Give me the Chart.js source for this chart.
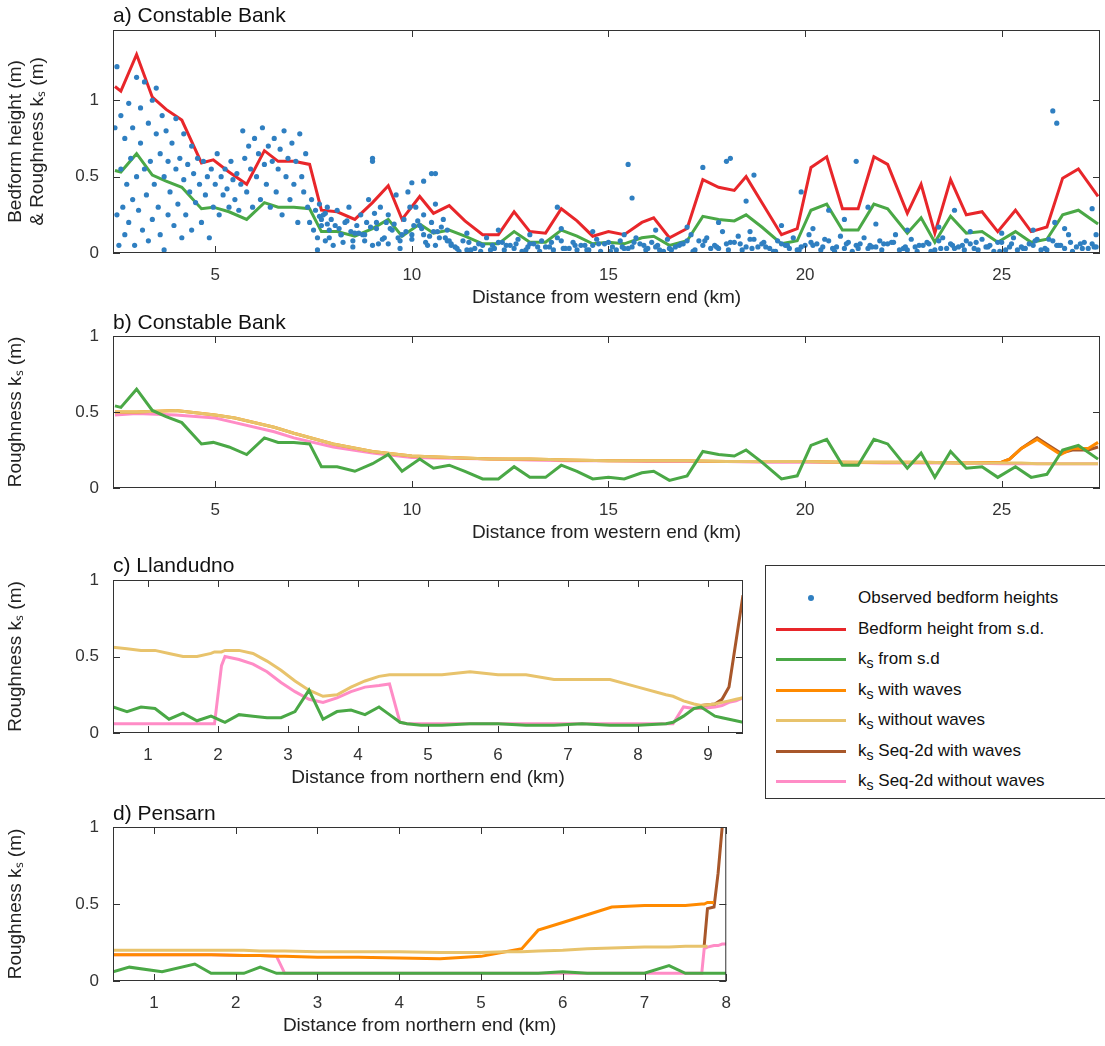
<!DOCTYPE html>
<html>
<head>
<meta charset="utf-8">
<script src="https://cdn.jsdelivr.net/npm/chart.js@4.4.0/dist/chart.umd.min.js"></script>
<style>
  body { margin: 0; background: #fff; font-family: "Liberation Sans", Arial, sans-serif; }
  #wrap { position: relative; width: 1105px; height: 1046px; overflow: hidden; }
  canvas { position: absolute; left: 0; }
  .ttl { position: absolute; left: 113px; font-size: 21px; color: #111; }
  #legend { position: absolute; left: 765px; top: 565px; width: 345px; height: 232px; border: 1px solid #333; background: #fff; font-size: 17px; color: #111; }
  .li { position: absolute; left: 0; height: 20px; }
  .li .sw { position: absolute; left: 10px; top: 9px; width: 70px; height: 3px; }
  .li .tx { position: absolute; left: 92px; top: 0; white-space: nowrap; }
</style>
</head>
<body>
<div id="wrap">
  <canvas id="ca"></canvas>
  <canvas id="cb"></canvas>
  <canvas id="cc"></canvas>
  <canvas id="cd"></canvas>
  <div class="ttl" style="top:3px">a) Constable Bank</div>
  <div class="ttl" style="top:310px">b) Constable Bank</div>
  <div class="ttl" style="top:553px">c) Llandudno</div>
  <div class="ttl" style="top:801px">d) Pensarn</div>
  <div id="legend"></div>
</div>
<script>
// ---- colours
const BLUE = '#2f7fc1', RED = '#e8262a', GREEN = '#4aa846', ORANGE = '#ff8a00',
      YELLOW = '#e8c36c', BROWN = '#a8572a', PINK = '#ff8cc6';

// ---- panel a / b : Constable Bank, s.d. based series
const cbX = [2.45,2.6,3.0,3.4,3.75,4.15,4.65,4.95,5.35,5.8,6.25,6.6,7.0,7.4,7.7,8.1,8.55,9.0,9.4,9.75,10.2,10.55,10.95,11.35,11.8,12.2,12.6,13.0,13.4,13.8,14.2,14.6,15.0,15.4,15.85,16.15,16.55,17.0,17.4,17.8,18.2,18.5,18.9,19.4,19.8,20.15,20.55,20.95,21.35,21.75,22.1,22.6,22.95,23.3,23.7,24.1,24.5,24.9,25.35,25.75,26.15,26.55,26.95,27.45];
const redH = [1.09,1.06,1.30,1.02,0.94,0.87,0.59,0.61,0.53,0.45,0.67,0.60,0.60,0.58,0.28,0.27,0.22,0.33,0.44,0.22,0.37,0.26,0.31,0.21,0.12,0.12,0.27,0.14,0.13,0.29,0.21,0.11,0.14,0.12,0.20,0.23,0.10,0.16,0.48,0.43,0.41,0.50,0.33,0.12,0.16,0.56,0.63,0.29,0.29,0.63,0.58,0.26,0.45,0.13,0.48,0.25,0.27,0.14,0.28,0.14,0.17,0.49,0.55,0.37];
const greenKs = [0.54,0.53,0.65,0.51,0.47,0.43,0.29,0.30,0.27,0.22,0.33,0.30,0.30,0.29,0.14,0.14,0.11,0.16,0.22,0.11,0.19,0.13,0.15,0.11,0.06,0.06,0.14,0.07,0.07,0.15,0.11,0.06,0.07,0.06,0.10,0.11,0.05,0.08,0.24,0.22,0.21,0.25,0.17,0.06,0.08,0.28,0.32,0.15,0.15,0.32,0.29,0.13,0.23,0.07,0.24,0.13,0.14,0.07,0.14,0.07,0.09,0.25,0.28,0.19];

// observed bedform heights (km, m)
const obsX = [2.45,2.5,2.5,2.55,2.6,2.6,2.65,2.7,2.7,2.75,2.8,2.8,2.85,2.9,2.9,2.95,3.0,3.0,3.05,3.1,3.1,3.15,3.2,3.2,3.25,3.3,3.3,3.35,3.4,3.4,3.45,3.5,3.5,3.55,3.6,3.6,3.65,3.7,3.7,3.75,3.8,3.8,3.85,3.9,3.95,4.0,4.0,4.05,4.1,4.15,4.2,4.2,4.25,4.3,4.35,4.4,4.4,4.45,4.5,4.55,4.6,4.65,4.7,4.75,4.8,4.85,4.9,4.95,5.0,5.05,5.1,5.15,5.2,5.25,5.3,5.35,5.4,5.45,5.5,5.55,5.6,5.65,5.7,5.75,5.8,5.85,5.9,5.95,6.0,6.05,6.1,6.15,6.2,6.25,6.3,6.35,6.4,6.45,6.5,6.55,6.6,6.65,6.7,6.75,6.8,6.85,6.9,6.95,7.0,7.05,7.1,7.15,7.2,7.25,7.3,7.35,7.4,7.45,7.5,7.55,7.6,7.65,7.7,7.75,7.8,7.85,7.9,7.95,8.0,8.1,8.2,8.3,8.4,8.5,8.6,8.7,8.8,8.9,9.0,9.1,9.2,9.3,9.4,9.5,9.6,9.7,9.8,9.9,10.0,10.1,10.2,10.3,10.4,10.5,10.6,10.7,10.8,10.9,11.0,7.6,7.9,8.2,8.5,8.8,9.1,9.4,9.7,10.0,10.3,10.6,10.9,7.7,8.05,8.45,8.75,9.05,9.35,9.65,9.95,10.25,10.55,10.85,9.0,10.0,10.5,
  7.65,7.85,8.15,8.35,8.65,8.95,9.25,9.55,9.85,10.15,10.45,10.75,10.95,7.8,8.25,8.55,8.85,9.15,9.45,9.75,10.05,10.35,10.65,
  11.1,11.3,11.5,11.7,11.9,12.1,12.3,12.5,12.7,12.9,13.1,13.3,13.5,13.7,13.9,14.1,14.3,14.5,14.7,14.9,15.1,15.3,15.5,15.7,15.9,16.1,16.3,16.5,16.7,16.9,17.1,17.3,17.5,17.7,17.9,18.1,18.3,18.5,18.7,18.9,19.1,19.3,19.5,19.7,19.9,20.1,20.3,20.5,20.7,20.9,21.1,21.3,21.5,21.7,21.9,22.1,22.3,22.5,22.7,22.9,23.1,23.3,23.5,23.7,23.9,24.1,24.3,24.5,24.7,24.9,25.1,25.3,25.5,25.7,25.9,26.1,26.3,26.5,26.7,26.9,27.1,27.3,
  11.2,11.6,12.0,12.4,12.8,13.2,13.6,14.0,14.4,14.8,15.2,15.6,16.0,16.4,16.8,17.2,17.6,18.0,18.4,18.8,19.2,19.6,20.0,20.4,20.8,21.2,21.6,22.0,22.4,22.8,23.2,23.6,24.0,24.4,24.8,25.2,25.6,26.0,26.4,26.8,27.2,
  11.0,11.4,11.8,12.2,12.6,13.0,13.4,13.8,14.2,14.6,15.0,15.4,15.8,16.2,16.6,17.0,17.4,17.8,18.2,18.6,19.0,19.4,19.8,20.2,20.6,21.0,21.4,21.8,22.2,22.6,23.0,23.4,23.8,24.2,24.6,25.0,25.4,25.8,26.2,26.6,27.0,27.4,
  11.15,11.45,11.75,12.05,12.35,12.65,12.95,13.25,13.55,13.85,14.15,14.45,14.75,15.05,15.35,15.65,15.95,16.25,16.55,16.85,17.15,17.45,17.75,18.05,18.35,18.65,18.95,19.25,19.55,19.85,20.15,20.45,20.75,21.05,21.35,21.65,21.95,22.25,22.55,22.85,23.15,23.45,23.75,24.05,24.35,24.65,24.95,25.25,25.55,25.85,26.15,26.45,26.75,27.05,27.35,
  11.4,12.2,13.0,13.8,14.6,15.4,16.2,17.0,17.8,18.6,19.4,20.2,21.0,21.8,22.6,23.4,24.2,25.0,25.8,26.6,27.4,
  13.7,15.5,15.6,17.4,18.0,18.1,18.5,18.7,20.6,21.3,26.3,26.4,26.35,27.3,9.0,10.3,10.6,19.9,21.6,23.8];
const obsY = [0.82,0.25,1.22,0.05,0.55,0.9,0.3,0.75,0.12,0.45,0.98,0.2,0.62,0.35,0.82,0.05,0.5,1.15,0.28,0.72,0.95,0.15,0.55,1.12,0.38,0.85,0.08,0.6,1.0,0.22,0.45,0.78,1.08,0.3,0.65,0.12,0.9,0.5,0.02,0.8,0.25,0.6,0.4,0.72,0.18,0.55,0.88,0.32,0.62,0.1,0.48,0.78,0.25,0.58,0.4,0.7,0.15,0.52,0.33,0.62,0.45,0.2,0.6,0.38,0.5,0.1,0.55,0.3,0.45,0.65,0.25,0.5,0.38,0.55,0.42,0.3,0.6,0.48,0.35,0.52,0.28,0.45,0.8,0.62,0.4,0.7,0.55,0.3,0.75,0.5,0.65,0.35,0.82,0.58,0.45,0.7,0.3,0.6,0.75,0.4,0.55,0.68,0.25,0.8,0.5,0.62,0.35,0.72,0.45,0.6,0.2,0.78,0.5,0.4,0.65,0.3,0.2,0.35,0.15,0.28,0.1,0.32,0.18,0.25,0.08,0.3,0.15,0.22,0.05,0.28,0.12,0.2,0.3,0.08,0.18,0.25,0.12,0.35,0.05,0.2,0.3,0.1,0.25,0.15,0.38,0.08,0.22,0.4,0.12,0.3,0.18,0.25,0.05,0.2,0.32,0.1,0.22,0.15,0.05,0.02,0.1,0.12,0.04,0.08,0.16,0.06,0.03,0.09,0.12,0.05,0.08,0.22,0.18,0.14,0.12,0.26,0.2,0.1,0.3,0.16,0.14,0.1,0.6,0.46,0.52,
  0.24,0.19,0.16,0.21,0.13,0.17,0.09,0.19,0.14,0.21,0.11,0.17,0.08,0.26,0.07,0.13,0.2,0.06,0.16,0.12,0.18,0.07,0.14,
  0.04,0.08,0.02,0.06,0.1,0.03,0.07,0.05,0.09,0.02,0.06,0.08,0.04,0.1,0.03,0.07,0.05,0.02,0.09,0.06,0.04,0.08,0.03,0.1,0.05,0.07,0.02,0.09,0.04,0.06,0.12,0.08,0.1,0.05,0.14,0.07,0.11,0.04,0.09,0.06,0.03,0.08,0.05,0.1,0.04,0.12,0.06,0.09,0.03,0.11,0.07,0.05,0.1,0.04,0.08,0.06,0.12,0.03,0.09,0.05,0.07,0.02,0.1,0.06,0.04,0.08,0.03,0.09,0.05,0.07,0.02,0.1,0.04,0.06,0.09,0.03,0.08,0.05,0.12,0.04,0.07,0.06,
  0.01,0.03,0.02,0.05,0.01,0.04,0.02,0.03,0.05,0.01,0.02,0.04,0.03,0.01,0.05,0.02,0.03,0.06,0.02,0.04,0.01,0.03,0.05,0.02,0.04,0.01,0.03,0.06,0.02,0.04,0.01,0.03,0.05,0.02,0.01,0.04,0.03,0.02,0.05,0.01,0.03,
  0.06,0.02,0.05,0.07,0.03,0.06,0.04,0.08,0.02,0.05,0.07,0.03,0.06,0.04,0.02,0.08,0.05,0.03,0.07,0.09,0.04,0.06,0.02,0.05,0.08,0.03,0.06,0.04,0.07,0.02,0.05,0.08,0.03,0.06,0.04,0.07,0.02,0.05,0.09,0.03,0.06,0.04,
  0.03,0.07,0.01,0.05,0.02,0.06,0.04,0.01,0.07,0.03,0.05,0.02,0.06,0.01,0.04,0.07,0.02,0.05,0.03,0.06,0.01,0.08,0.04,0.02,0.06,0.03,0.07,0.01,0.05,0.02,0.07,0.04,0.01,0.06,0.03,0.05,0.02,0.07,0.04,0.01,0.06,0.03,0.05,0.02,0.07,0.04,0.01,0.06,0.03,0.08,0.02,0.05,0.07,0.03,0.04,
  0.13,0.15,0.12,0.16,0.14,0.12,0.15,0.17,0.2,0.14,0.18,0.16,0.22,0.19,0.15,0.17,0.14,0.13,0.15,0.16,0.12,
  0.3,0.58,0.36,0.56,0.6,0.62,0.34,0.51,0.28,0.6,0.93,0.85,0.2,0.29,0.62,0.47,0.52,0.4,0.3,0.28];

// panel b smooth predictors
const bX = [2.45,3,4,5,5.5,6.5,7,8,9,10,11,12,13,14,15,16,17,18,19,20,21,22,23,24,25,25.2,25.5,25.9,26.2,26.5,26.8,27.2,27.45];
const bYellow = [0.50,0.50,0.51,0.48,0.46,0.40,0.36,0.29,0.24,0.21,0.20,0.19,0.19,0.185,0.18,0.18,0.18,0.175,0.175,0.175,0.17,0.17,0.17,0.165,0.165,0.165,0.165,0.16,0.16,0.16,0.16,0.16,0.16];
const bPink = [0.48,0.49,0.48,0.46,0.43,0.37,0.33,0.27,0.23,0.20,0.195,0.19,0.185,0.18,0.18,0.175,0.175,0.175,0.17,0.17,0.17,0.165,0.165,0.165,0.16,0.16,0.16,0.16,0.16,0.16,0.16,0.16,0.16];
const bOrange = [0.50,0.50,0.51,0.48,0.46,0.40,0.36,0.29,0.24,0.21,0.20,0.19,0.19,0.185,0.18,0.18,0.18,0.175,0.175,0.175,0.17,0.17,0.17,0.165,0.17,0.19,0.26,0.32,0.27,0.22,0.26,0.26,0.30];
const bBrown = [null,null,null,null,null,null,null,null,null,null,null,null,null,null,null,null,null,null,null,null,null,null,null,null,0.17,0.19,0.26,0.33,0.28,0.23,0.25,0.25,0.27];

// panel c: Llandudno
const cX = [0.5,0.7,0.9,1.1,1.3,1.5,1.7,1.9,1.95,2.05,2.1,2.3,2.5,2.7,2.9,3.1,3.3,3.5,3.7,3.9,4.1,4.3,4.45,4.6,4.7,4.9,5.2,5.6,6,6.4,6.8,7.2,7.6,8,8.4,8.5,8.65,8.8,8.9,9.1,9.2,9.3,9.4,9.5];
const cYellow = [0.56,0.55,0.54,0.54,0.52,0.50,0.50,0.52,0.53,0.53,0.54,0.54,0.52,0.47,0.41,0.34,0.28,0.24,0.25,0.30,0.34,0.37,0.38,0.38,0.38,0.38,0.38,0.40,0.38,0.38,0.35,0.35,0.35,0.30,0.25,0.24,0.21,0.19,0.18,0.19,0.20,0.21,0.22,0.23];
const cPink = [0.06,0.06,0.06,0.06,0.06,0.06,0.06,0.06,0.06,0.44,0.50,0.48,0.45,0.40,0.33,0.27,0.22,0.20,0.23,0.27,0.30,0.31,0.32,0.07,0.06,0.06,0.06,0.06,0.06,0.06,0.06,0.06,0.06,0.06,0.06,0.06,0.17,0.16,0.16,0.17,0.18,0.20,0.21,0.23];
const cGreen = [0.17,0.14,0.17,0.16,0.09,0.13,0.08,0.11,0.10,0.08,0.07,0.12,0.11,0.10,0.10,0.14,0.28,0.09,0.14,0.15,0.12,0.17,0.12,0.07,0.06,0.05,0.05,0.06,0.06,0.05,0.05,0.06,0.05,0.05,0.06,0.07,0.11,0.16,0.17,0.11,0.10,0.09,0.08,0.07];
const cBrown = [null,null,null,null,null,null,null,null,null,null,null,null,null,null,null,null,null,null,null,null,null,null,null,null,null,null,null,null,null,null,null,null,null,null,null,null,null,null,0.18,0.19,0.22,0.30,0.60,0.90];

// panel d: Pensarn
const dX = [0.5,0.7,1.1,1.5,1.7,2.1,2.3,2.5,2.6,3,3.5,4,4.5,5,5.3,5.5,5.7,6,6.3,6.6,7,7.3,7.5,7.7,7.73,7.77,7.85,7.9,7.95,8];
const dYellow = [0.20,0.20,0.20,0.20,0.20,0.20,0.195,0.195,0.195,0.19,0.19,0.19,0.185,0.185,0.19,0.19,0.195,0.20,0.21,0.215,0.22,0.22,0.225,0.225,0.225,0.225,null,null,null,null];
const dOrange = [0.17,0.17,0.17,0.17,0.17,0.165,0.165,0.16,0.16,0.155,0.155,0.15,0.145,0.16,0.19,0.21,0.33,0.38,0.43,0.48,0.49,0.49,0.49,0.50,0.50,0.51,0.51,null,null,null];
const dBrown = [null,null,null,null,null,null,null,null,null,null,null,null,null,null,null,null,null,null,null,null,null,null,null,null,0.23,0.47,0.48,0.70,1.0,null];
const dPink = [0.17,0.17,0.17,0.17,0.17,0.165,0.165,0.16,0.05,0.05,0.05,0.05,0.05,0.05,0.05,0.05,0.05,0.05,0.05,0.05,0.05,0.05,0.05,0.05,0.21,0.22,0.23,0.23,0.24,0.24];
const dGreen = [0.06,0.09,0.06,0.11,0.05,0.05,0.09,0.05,0.05,0.05,0.05,0.05,0.05,0.05,0.05,0.05,0.05,0.06,0.05,0.05,0.05,0.10,0.05,0.05,0.05,0.05,0.05,0.05,0.05,0.05];

// tick values
const ticksA = [5,10,15,20,25];
const ticksAY = [0,0.5,1];
const ticksKm9 = [1,2,3,4,5,6,7,8,9];
const ticksKm8 = [1,2,3,4,5,6,7,8];
const ticksY01 = [0,0.5,1];

const FONT = 'Liberation Sans';
Chart.defaults.font.family = FONT;
Chart.defaults.color = '#222';

function pts(xs, ys) { return xs.map((x, i) => ({ x: x, y: ys[i] })); }

function line(label, xs, ys, color) {
  return { type: 'line', label: label, data: pts(xs, ys), borderColor: color, backgroundColor: color,
    borderWidth: 3, pointRadius: 0, tension: 0, spanGaps: false };
}

// draws the box and the inward tick marks
const boxPlugin = {
  id: 'box',
  afterDraw(chart) {
    const { ctx, chartArea: a, scales } = chart;
    ctx.save();
    ctx.strokeStyle = '#333';
    ctx.lineWidth = 1;
    ctx.strokeRect(a.left + 0.5, a.top + 0.5, a.right - a.left - 1, a.bottom - a.top - 1);
    scales.x.ticks.forEach(t => {
      const px = Math.round(scales.x.getPixelForValue(t.value)) + 0.5;
      ctx.beginPath();
      ctx.moveTo(px, a.bottom); ctx.lineTo(px, a.bottom - 7);
      ctx.moveTo(px, a.top); ctx.lineTo(px, a.top + 7);
      ctx.stroke();
    });
    scales.y.ticks.forEach(t => {
      const py = Math.round(scales.y.getPixelForValue(t.value)) + 0.5;
      ctx.beginPath();
      ctx.moveTo(a.left, py); ctx.lineTo(a.left + 7, py);
      ctx.moveTo(a.right, py); ctx.lineTo(a.right - 7, py);
      ctx.stroke();
    });
    ctx.restore();
  }
};

function makeChart(id, o) {
  const cv = document.getElementById(id);
  cv.style.top = o.top + 'px';
  cv.width = o.width; cv.height = o.height;
  cv.style.width = o.width + 'px'; cv.style.height = o.height + 'px';
  return new Chart(cv, {
    data: { datasets: o.datasets },
    options: {
      responsive: false, animation: false, devicePixelRatio: 1,
      layout: { padding: { top: o.padTop, right: o.padRight, left: 0, bottom: 0 } },
      plugins: { legend: { display: false }, tooltip: { enabled: false } },
      scales: {
        x: {
          type: 'linear', min: o.xmin, max: o.xmax,
          afterBuildTicks: s => { s.ticks = o.xt.map(v => ({ value: v })); },
          afterFit: s => { s.height = 60; },
          grid: { display: false, drawTicks: false }, border: { display: false },
          ticks: { font: { size: 17 }, color: '#333', padding: 12, maxRotation: 0, callback: v => String(v) },
          title: { display: true, text: o.xtitle, font: { size: 19 }, color: '#222', padding: { top: 2, bottom: 4 } }
        },
        y: {
          type: 'linear', min: o.ymin, max: o.ymax,
          afterBuildTicks: s => { s.ticks = o.yt.map(v => ({ value: v })); },
          afterFit: s => { s.width = 113; },
          grid: { display: false }, border: { display: false },
          ticks: { font: { size: 17 }, color: '#333', padding: 6, callback: v => String(v) },
          title: { display: true, text: o.ytitle, font: { size: 19 }, color: '#222', padding: { bottom: 2 } }
        }
      }
    },
    plugins: [boxPlugin]
  });
}

// panel a
makeChart('ca', {
  top: 0, width: 1105, height: 313, padTop: 30, padRight: 5,
  xmin: 2.4, xmax: 27.5, ymin: 0, ymax: 1.46, xt: ticksA, yt: ticksAY,
  xtitle: 'Distance from western end (km)', ytitle: ['Bedform height (m)', '& Roughness kₛ (m)'],
  datasets: [
    { type: 'scatter', label: 'Observed bedform heights', data: pts(obsX, obsY), pointRadius: 2.6,
      pointBackgroundColor: BLUE, pointBorderWidth: 0, showLine: false },
    line('Bedform height from s.d.', cbX, redH, RED),
    line('ks from s.d', cbX, greenKs, GREEN)
  ]
});

// panel b
makeChart('cb', {
  top: 306, width: 1105, height: 242, padTop: 30, padRight: 5,
  xmin: 2.4, xmax: 27.5, ymin: 0, ymax: 1, xt: ticksA, yt: ticksY01,
  xtitle: 'Distance from western end (km)', ytitle: 'Roughness kₛ (m)',
  datasets: [
    line('ks from s.d', cbX, greenKs, GREEN),
    line('ks without waves', bX, bYellow, YELLOW),
    line('ks with waves', bX, bOrange, ORANGE),
    line('ks Seq-2d with waves', bX, bBrown, BROWN),
    line('ks Seq-2d without waves', bX, bPink, PINK)
  ]
});

// panel c
makeChart('cc', {
  top: 550, width: 748, height: 243, padTop: 30, padRight: 5,
  xmin: 0.5, xmax: 9.5, ymin: 0, ymax: 1, xt: ticksKm9, yt: ticksY01,
  xtitle: 'Distance from northern end (km)', ytitle: 'Roughness kₛ (m)',
  datasets: [
    line('ks from s.d', cX, cGreen, GREEN),
    line('ks without waves', cX, cYellow, YELLOW),
    line('ks Seq-2d with waves', cX, cBrown, BROWN),
    line('ks Seq-2d without waves', cX, cPink, PINK)
  ]
});

// panel d
makeChart('cd', {
  top: 797, width: 743, height: 244, padTop: 30, padRight: 5,
  xmin: 0.5, xmax: 8, ymin: 0, ymax: 1, xt: ticksKm8, yt: ticksY01,
  xtitle: 'Distance from northern end (km)', ytitle: 'Roughness kₛ (m)',
  datasets: [
    line('ks from s.d', dX, dGreen, GREEN),
    line('ks without waves', dX, dYellow, YELLOW),
    line('ks with waves', dX, dOrange, ORANGE),
    line('ks Seq-2d with waves', dX, dBrown, BROWN),
    line('ks Seq-2d without waves', dX, dPink, PINK)
  ]
});

// legend
const legendItems = [
  ['dot', BLUE, 'Observed bedform heights'],
  ['line', RED, 'Bedform height from s.d.'],
  ['line', GREEN, 'k<sub>s</sub> from s.d'],
  ['line', ORANGE, 'k<sub>s</sub> with waves'],
  ['line', YELLOW, 'k<sub>s</sub> without waves'],
  ['line', BROWN, 'k<sub>s</sub> Seq-2d with waves'],
  ['line', PINK, 'k<sub>s</sub> Seq-2d without waves']
];
const lg = document.getElementById('legend');
legendItems.forEach((it, i) => {
  const d = document.createElement('div');
  d.className = 'li';
  d.style.top = (22 + i * 30.5) + 'px';
  const sw = it[0] === 'dot'
    ? `<span style="position:absolute;left:42px;top:7px;width:6px;height:6px;border-radius:3px;background:${it[1]}"></span>`
    : `<span class="sw" style="background:${it[1]}"></span>`;
  d.innerHTML = sw + `<span class="tx">${it[2]}</span>`;
  lg.appendChild(d);
});
</script>
</body>
</html>
